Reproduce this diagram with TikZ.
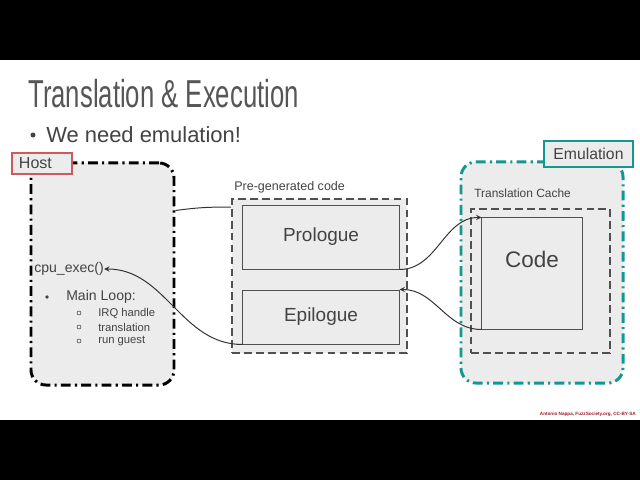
\documentclass[tikz,border=0pt]{standalone}
\usepackage{fontspec}
\setmainfont{Liberation Sans}
\newfontfamily\titlefont[FakeStretch=0.66]{Liberation Sans}
\usetikzlibrary{arrows}
\definecolor{boxgray}{RGB}{236,236,236}
\definecolor{textgray}{RGB}{67,67,67}
\definecolor{linegray}{RGB}{80,80,80}
\definecolor{hostred}{RGB}{206,90,95}
\definecolor{emuteal}{RGB}{22,150,145}
\definecolor{footred}{RGB}{150,30,40}
\tikzstyle{container} = [rectangle, rounded corners=0.375cm,
  fill=boxgray, line width=2.1pt,
  dash pattern=on 7pt off 3pt on 1.5pt off 3pt]
\tikzstyle{region} = [rectangle,
  draw=linegray, fill=boxgray, line width=1.1pt,
  dash pattern=on 5.5pt off 3pt]
\tikzstyle{block} = [rectangle,
  draw=linegray, fill=boxgray, line width=0.7pt,
  text=textgray, text centered]
\tikzstyle{tag} = [rectangle, fill=boxgray, line width=0.8pt,
  text=textgray, inner sep=0pt]
\tikzstyle{caption} = [text=textgray, inner sep=0pt, anchor=west]
\tikzstyle{arrow} = [line width=0.7pt,->,>=stealth, draw=black!80]

\begin{document}
\begin{tikzpicture}[x=0.025cm, y=-0.025cm]

%% ---- SLIDE ----
\useasboundingbox (0,0) rectangle (640,480);
\fill[white] (0,60) rectangle (640,420);
\fill[black] (0,0) rectangle (640,60);
\fill[black] (0,420) rectangle (640,480);

\node (title) [text=textgray!90, inner sep=0pt, anchor=base west] at (28,107.7)
  {\titlefont\fontsize{27.7}{32}\selectfont Translation \& Execution};
\fill[textgray] (33,135) circle (2.5);
\node (need) [text=textgray, inner sep=0pt, anchor=base west] at (46,142)
  {\fontsize{15.6}{18}\selectfont We need emulation!};

%%=============================================================
%% HOST
%%=============================================================
\node (host) [container, draw=black, minimum width=3.575cm, minimum height=5.55cm]
  at (102.5, 274) {};
\node (hosttag) [tag, draw=hostred, minimum width=1.5cm, minimum height=0.525cm,
  text width=1.15cm, align=left, inner xsep=0.175cm] at (42, 163.5)
  {\fontsize{11.4}{13}\selectfont Host};

\node (cpu) [caption] at (34, 269) {\fontsize{10}{12}\selectfont cpu\_exec()};
\fill[textgray] (47,297) circle (1.8);
\node (loop) [caption] at (66, 297) {\fontsize{10}{12}\selectfont Main Loop:};
\draw[textgray, line width=0.4pt] (79,313) circle (2) (79,327) circle (2) (79,341) circle (2);
\node (irq)   [caption] at (98, 313) {\fontsize{8}{10}\selectfont IRQ handle};
\node (trans) [caption] at (98, 327) {\fontsize{8}{10}\selectfont translation};
\node (run)   [caption] at (98, 341) {\fontsize{8}{10}\selectfont run guest};

%%=============================================================
%% PRE-GENERATED CODE
%%=============================================================
\node (pregen) [region, minimum width=4.375cm, minimum height=3.85cm]
  at (319.5, 276) {};
\node (pregenlbl) [caption] at (234, 187)
  {\fontsize{8.9}{10}\selectfont Pre-generated code};
\node (pro) [block, minimum width=3.9cm, minimum height=1.6cm] at (321, 237)
  {\fontsize{13.5}{16}\selectfont Prologue};
\node (epi) [block, minimum width=3.9cm, minimum height=1.35cm] at (321, 317)
  {\fontsize{13.5}{16}\selectfont\raisebox{-0.2cm}{Epilogue}};

%%=============================================================
%% EMULATION
%%=============================================================
\node (emu) [container, draw=emuteal, minimum width=4.05cm, minimum height=5.525cm]
  at (542, 272.5) {};
\node (emutag) [tag, draw=emuteal, minimum width=2.225cm, minimum height=0.65cm]
  at (588.5, 154) {\fontsize{11.2}{13}\selectfont Emulation};
\node (cachelbl) [caption] at (474, 193)
  {\fontsize{8.5}{10}\selectfont Translation Cache};
\node (cache) [region, minimum width=3.475cm, minimum height=3.6cm]
  at (540.5, 281) {};
\node (code) [block, minimum width=2.5cm, minimum height=2.775cm] at (532, 273.5)
  {\fontsize{16}{19}\selectfont\raisebox{0.72cm}{Code}};

%% ---- CONNECTORS ----
\draw[line width=0.7pt, draw=black!80] (host.41) to[out=8, in=180] (pregen.142);
\draw[arrow] (pro.south east) to[out=0, in=180] (code.north west);
\draw[arrow] (code.south west) to[out=180, in=0] (epi.north east);
\draw[arrow] (epi.south west) to[out=180, in=0] (cpu.east);

\node (credit) [text=footred, inner sep=0pt, anchor=east] at (636, 414)
  {\fontsize{3.3}{4}\selectfont\bfseries Antonio Nappa, FuzzSociety.org, CC-BY-SA};

\end{tikzpicture}
\end{document}
